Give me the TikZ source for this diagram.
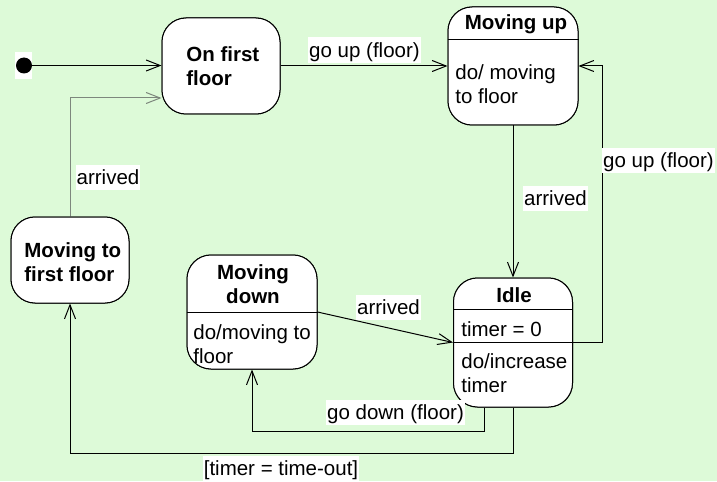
\documentclass[tikz,border=0pt]{standalone}
\usepackage{fontspec}
\setmainfont{Liberation Sans}
\usetikzlibrary{arrows.meta,calc}
\definecolor{bg}{RGB}{221,250,216}
\definecolor{greyline}{RGB}{125,135,125}
\begin{document}
\begin{tikzpicture}[x=0.5pt,y=-0.5pt,
  font=\fontsize{10.25pt}{12.3pt}\selectfont,
  statebox/.style={draw, fill=white, line width=0.5pt, rounded corners=12pt, inner sep=0pt},
  txt/.style={inner sep=0pt, align=left, anchor=west},
  ttl/.style={inner sep=0pt, align=center, font=\fontsize{10.25pt}{12.3pt}\selectfont\bfseries},
  lbl/.style={fill=white, inner xsep=0.5pt, inner ysep=0.25pt, text height=9.8pt, text depth=2.6pt},
  arr/.style={line width=0.5pt, -{Straight Barb[length=7pt,width=5.5pt]}},
  conn/.style={line width=0.5pt}
]
\path[fill=bg] (0,0) rectangle (717,481);

% states
\node[statebox, minimum width=59pt, minimum height=48pt] (first) at (221,66) {};
\node[statebox, minimum width=65pt, minimum height=59pt] (up) at (513,66) {};
\node[statebox, minimum width=59.5pt, minimum height=64.5pt] (idle) at (513,342.5) {};
\node[statebox, minimum width=65pt, minimum height=57pt] (down) at (252,312) {};
\node[statebox, minimum width=59pt, minimum height=43pt] (mtf) at (70,260) {};

% initial state
\fill[white] (15,52) rectangle (32,79);
\node[circle, fill=black, inner sep=0pt, minimum size=8pt] (init) at (24,65.5) {};

% connectors
\draw[arr] (init.east) -- (first.west |- init.east);
\draw[arr] (first.east) -- (up.west);
\draw[arr] (up.south) -- (idle.north);
\draw[arr] (idle.east) -- ++(29,0) |- (up.east);
\draw[arr] (down.east) -- (idle.west);
\draw[arr] ($(idle.south)+(-29,0)$) -- ++(0,24) -| (down.south);
\draw[arr] (idle.south) -- ++(0,46) -| (mtf.south);
\coordinate (firstin) at ($(first.west)+(0,32)$);
\draw[arr, greyline] (mtf.north) |- (firstin);

% redraw boxes on top of connectors
\node[statebox, minimum width=59pt, minimum height=48pt] at (221,66) {};
\node[statebox, minimum width=65pt, minimum height=59pt] at (513,66) {};
\node[statebox, minimum width=59.5pt, minimum height=64.5pt] at (513,342.5) {};
\node[statebox, minimum width=65pt, minimum height=57pt] at (252,312) {};
\node[statebox, minimum width=59pt, minimum height=43pt] at (70,260) {};

% compartments
\draw[conn] (up.west |- 0,40) -- (up.east |- 0,40);
\draw[conn] (idle.west |- 0,309) -- (idle.east |- 0,309);
\draw[conn] (idle.west) -- (idle.east);
\draw[conn] (down.west) -- (down.east);

% state texts
\node[txt, font=\fontsize{10.25pt}{12.3pt}\selectfont\bfseries] (firstt) at (186,66) {On first\\floor};
\node[ttl] (upt) at (516,24) {Moving up};
\node[txt] (upb) at (455,84) {do/ moving\\to floor};
\node[ttl] (idlet) at (514,295) {Idle};
\node[txt] (idlea) at (461,329) {timer = 0};
\node[txt] (idleb) at (461,373) {do/increase\\timer};
\node[ttl] (downt) at (253,284) {Moving\\down};
\node[txt] (downb) at (193,344) {do/moving to\\floor};
\node[txt, font=\fontsize{10.25pt}{12.3pt}\selectfont\bfseries] (mtft) at (24,262) {Moving to\\first floor};

% labels
\node[lbl] (l1) at (364.5,50) {go up (floor)};
\node[lbl] (l2) at (658.5,160.5) {go up (floor)};
\node[lbl] (l3) at (555.5,198.5) {arrived};
\node[lbl] (l4) at (108,177.5) {arrived};
\node[lbl] (l5) at (388.5,307.5) {arrived};
\node[lbl] (l6) at (395.5,412.5) {go down (floor)};
\node[lbl] (l7) at (281,468.5) {[timer = time-out]};
\end{tikzpicture}
\end{document}
